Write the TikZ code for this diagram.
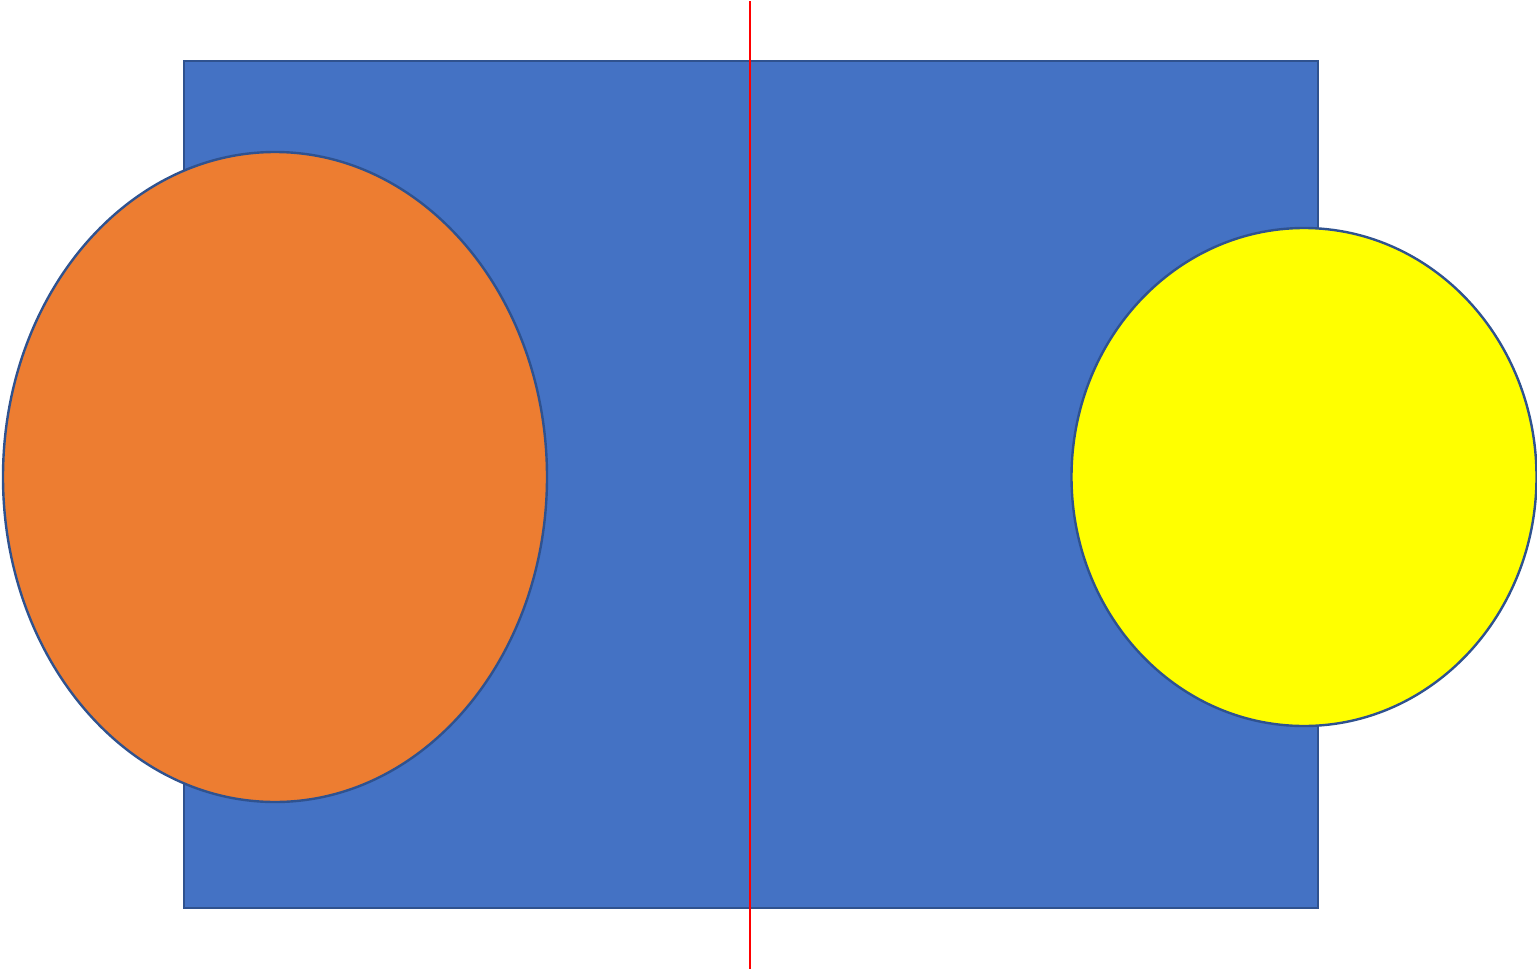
\documentclass[tikz,border=0pt]{standalone}
\begin{document}
\begin{tikzpicture}[x=0.5pt,y=-0.5pt,
  shapeborder/.style={draw={rgb,255:red,47;green,82;blue,143}, line width=1.2pt}]
\definecolor{blueA}{RGB}{68,114,196}
\definecolor{orangeA}{RGB}{237,125,49}
\definecolor{yellowA}{RGB}{255,255,0}
\useasboundingbox (0,0) rectangle (1537,969);
\fill[white] (0,0) rectangle (1537,969);
\draw[shapeborder, fill=blueA] (184,61) rectangle (1318,908);
\draw[red, line width=0.6pt] (750,1) -- (750,969);
\draw[shapeborder, fill=orangeA] (275,477) ellipse [x radius=272, y radius=325];
\draw[shapeborder, fill=yellowA] (1304,477) ellipse [x radius=232.5, y radius=249];
\end{tikzpicture}
\end{document}
